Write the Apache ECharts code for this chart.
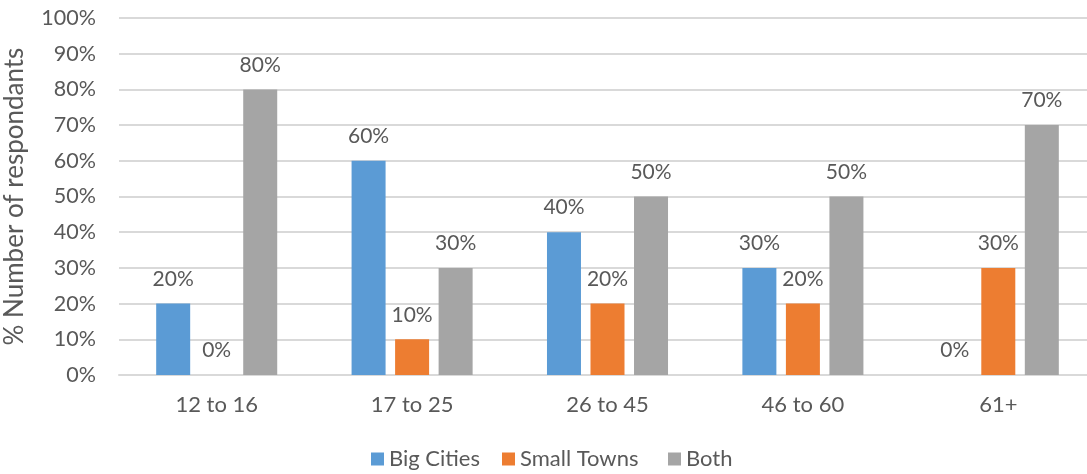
<!DOCTYPE html>
<html>
<head>
<meta charset="utf-8">
<script src="https://cdn.jsdelivr.net/npm/echarts@6/dist/echarts.min.js"></script>
<style>html,body{margin:0;padding:0;background:#fff;overflow:hidden}#c{width:1087px;height:474px}</style>
</head>
<body>
<div id="c"></div>
<script>
const categories = ['12 to 16', '17 to 25', '26 to 45', '46 to 60', '61+'];
const bigCities = [20, 60, 40, 30, 0];
const smallTowns = [0, 10, 20, 20, 30];
const both = [80, 30, 50, 50, 70];
const seriesNames = ['Big Cities', 'Small Towns', 'Both'];
const colors = ['#5B9BD5', '#ED7D31', '#A5A5A5'];

const FONT = 'Lato';
const TXT = '#595959';
const chart = echarts.init(document.getElementById('c'), null, {renderer: 'canvas'});
const mk = (name, data, i) => ({
  name, type: 'bar', data, barWidth: 34, barGap: '28%',
  itemStyle: {color: colors[i]},
  label: {show: true, position: 'top', distance: 14, formatter: '{c}%',
    color: TXT, fontFamily: FONT, fontSize: 21}
});
const legendLefts = [371, 502, 668];
chart.setOption({
  animation: false,
  color: colors,
  grid: {left: 119, right: -9, top: 18, bottom: 99, containLabel: false, outerBoundsMode: 'none'},
  legend: seriesNames.map((n, i) => ({
    data: [n], bottom: 4, left: legendLefts[i], icon: 'rect', padding: 0,
    itemWidth: 13, itemHeight: 13,
    textStyle: {color: TXT, fontFamily: FONT, fontSize: 22}
  })),
  xAxis: {
    type: 'category', data: categories,
    axisLine: {lineStyle: {color: '#D9D9D9', width: 2}},
    axisTick: {show: false},
    axisLabel: {color: TXT, fontFamily: FONT, fontSize: 22, margin: 19}
  },
  yAxis: {
    type: 'value', min: 0, max: 100, interval: 10,
    name: '% Number of respondants', nameLocation: 'middle', nameGap: 91,
    nameTextStyle: {color: TXT, fontFamily: FONT, fontSize: 26},
    axisLine: {show: false}, axisTick: {show: false},
    axisLabel: {formatter: '{value}%', color: TXT, fontFamily: FONT, fontSize: 21.5, margin: 23},
    splitLine: {lineStyle: {color: '#D9D9D9', width: 2}}
  },
  series: [mk(seriesNames[0], bigCities, 0), mk(seriesNames[1], smallTowns, 1), mk(seriesNames[2], both, 2)]
});
</script>
</body>
</html>
